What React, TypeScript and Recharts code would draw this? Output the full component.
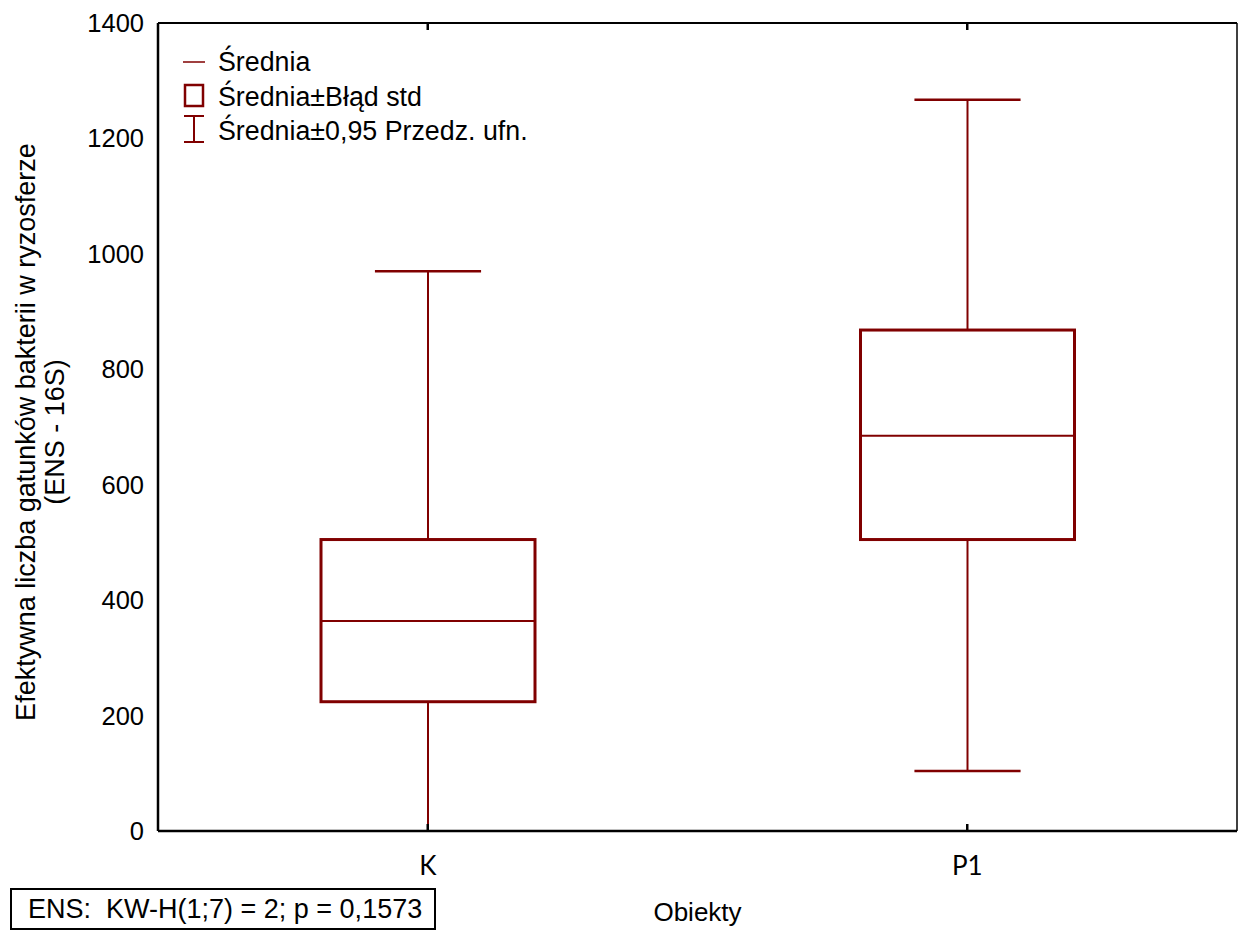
import { ComposedChart, Bar, XAxis, YAxis } from "recharts";

// per-object statistics: mean, mean ± std error, mean ± 0.95 conf. interval
const categories = ["K", "P1"];
const means = [364, 685];
const seLow = [224, 505];
const seHigh = [505, 868];
const ciLow = [-240, 104];
const ciHigh = [970, 1267];
const yTicks = [0, 200, 400, 600, 800, 1000, 1200, 1400];

const data = categories.map((name, i) => ({
  name,
  mean: means[i],
  seLow: seLow[i],
  seHigh: seHigh[i],
  ciLow: ciLow[i],
  ciHigh: ciHigh[i],
}));

const RED = "#800000";
const FONT = '"Liberation Sans", Arial, sans-serif';

// box + whiskers drawn inside the range bar [ciLow, ciHigh]
const BoxWhisker = (props: any) => {
  const { x, y, width, height, payload } = props;
  const [lo, hi] = Array.isArray(props.value) ? props.value : [payload.ciLow, payload.ciHigh];
  const toY = (v: number) => y + ((hi - v) / (hi - lo)) * height;
  const cx = x + width / 2;
  const cap = width * 0.248;
  const top = toY(payload.seHigh);
  const bottom = toY(payload.seLow);
  return (
    <g>
      <line x1={cx} x2={cx} y1={toY(payload.ciHigh)} y2={top} stroke={RED} strokeWidth={2} />
      <line x1={cx} x2={cx} y1={bottom} y2={toY(payload.ciLow)} stroke={RED} strokeWidth={2} />
      <line x1={cx - cap} x2={cx + cap} y1={toY(payload.ciHigh)} y2={toY(payload.ciHigh)} stroke={RED} strokeWidth={2.5} />
      <line x1={cx - cap} x2={cx + cap} y1={toY(payload.ciLow)} y2={toY(payload.ciLow)} stroke={RED} strokeWidth={2.5} />
      <rect x={x} y={top} width={width} height={bottom - top} fill="none" stroke={RED} strokeWidth={3} />
      <line x1={x} x2={x + width} y1={toY(payload.mean)} y2={toY(payload.mean)} stroke={RED} strokeWidth={2} />
    </g>
  );
};

const YTitle = (props: any) => {
  const vb = props.viewBox;
  const cy = vb.y + vb.height / 2 + 5;
  const style = { fontFamily: FONT, fontSize: 27, fill: "#000" };
  return (
    <g>
      <text x={26} y={cy} transform={`rotate(-90 26 ${cy})`} textAnchor="middle" dominantBaseline="central" style={style}>
        Efektywna liczba gatunków bakterii w ryzosferze
      </text>
      <text x={55} y={cy} transform={`rotate(-90 55 ${cy})`} textAnchor="middle" dominantBaseline="central" style={style}>
        (ENS - 16S)
      </text>
    </g>
  );
};

// inner tick marks only, no labels
const NoLabel = () => <g />;

const Legend = () => (
  <svg width={600} height={160} style={{ position: "absolute", left: 0, top: 0, pointerEvents: "none" }}>
    <g stroke={RED} fill="none">
      <line x1={183} x2={205} y1={62} y2={62} strokeWidth={1.5} />
      <rect x={185} y={85} width={18} height={21} strokeWidth={2.5} />
      <line x1={194} x2={194} y1={116} y2={142} strokeWidth={2} />
      <line x1={184} x2={204} y1={116} y2={116} strokeWidth={2} />
      <line x1={184} x2={204} y1={142} y2={142} strokeWidth={2} />
    </g>
    <g style={{ fontFamily: FONT, fontSize: 26.8 }} fill="#000">
      <text x={218} y={71}>Średnia</text>
      <text x={218} y={106}>Średnia±Błąd std</text>
      <text x={218} y={140}>Średnia±0,95 Przedz. ufn.</text>
    </g>
  </svg>
);

const tickLine = { stroke: "#000", strokeWidth: 2.5 };

export default function App() {
  return (
    <div style={{ position: "fixed", left: 0, top: 0, width: 1238, height: 931, background: "#fff" }}>
      <ComposedChart width={1238} height={931} data={data} margin={{ top: 23, right: 1, bottom: 0, left: 0 }}>
        <XAxis
          xAxisId="x"
          dataKey="name"
          type="category"
          height={100}
          tickLine={false}
          tickSize={0}
          tickMargin={26}
          axisLine={{ stroke: "#000", strokeWidth: 2.5 }}
          tick={{ fill: "#000", fontSize: 26, fontFamily: "Lato" }}
          label={{ value: "Obiekty", position: "insideBottom", offset: 10, fill: "#000", fontSize: 26, fontFamily: FONT }}
        />
        <XAxis xAxisId="xb" dataKey="name" type="category" mirror tick={NoLabel} axisLine={false} tickSize={7} tickLine={tickLine} />
        <XAxis
          xAxisId="xt"
          dataKey="name"
          type="category"
          orientation="top"
          mirror
          tick={NoLabel}
          axisLine={{ stroke: "#000", strokeWidth: 2 }}
          tickSize={7}
          tickLine={tickLine}
        />
        <YAxis
          yAxisId="y"
          type="number"
          domain={[0, 1400]}
          ticks={yTicks}
          allowDataOverflow
          width={158}
          tickLine={false}
          tickSize={0}
          tickMargin={14}
          axisLine={{ stroke: "#000", strokeWidth: 2.5 }}
          tick={{ fill: "#000", fontSize: 25.5, fontFamily: FONT }}
          label={{ content: YTitle }}
        />
        <YAxis yAxisId="yl" type="number" domain={[0, 1400]} ticks={yTicks} mirror tick={NoLabel} axisLine={false} tickSize={7} tickLine={tickLine} />
        <YAxis
          yAxisId="yr"
          type="number"
          orientation="right"
          domain={[0, 1400]}
          ticks={yTicks}
          mirror
          tick={NoLabel}
          axisLine={{ stroke: "#000", strokeWidth: 1.5 }}
          tickSize={7}
          tickLine={tickLine}
        />
        <Bar
          xAxisId="x"
          yAxisId="y"
          dataKey={(d: any) => [d.ciLow, d.ciHigh]}
          barSize={214}
          shape={BoxWhisker}
          isAnimationActive={false}
        />
      </ComposedChart>
      <Legend />
      <div
        style={{
          position: "absolute",
          left: 10,
          top: 888,
          width: 426,
          height: 42,
          boxSizing: "border-box",
          border: "2px solid #000",
          fontFamily: FONT,
          fontSize: 27,
          lineHeight: "38px",
          paddingLeft: 16,
          whiteSpace: "pre",
          color: "#000",
        }}
      >
        {"ENS:  KW-H(1;7) = 2; p = 0,1573"}
      </div>
    </div>
  );
}
